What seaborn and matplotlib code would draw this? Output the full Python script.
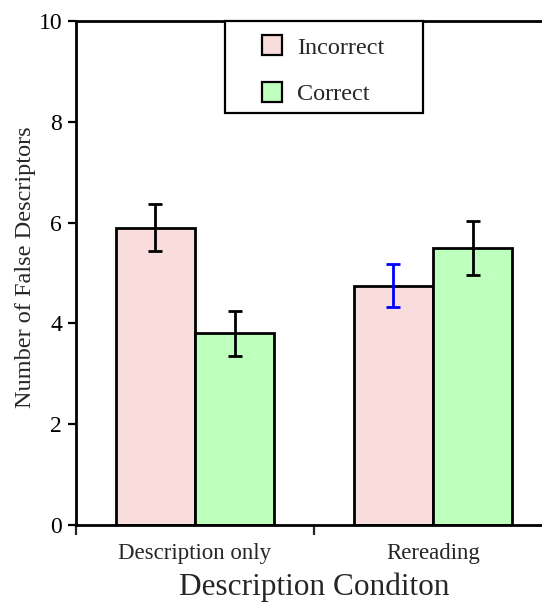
import matplotlib
matplotlib.use("Agg")
import matplotlib.pyplot as plt
from matplotlib.patches import Rectangle, Patch
import seaborn as sns
import pandas as pd
import numpy as np

conditions = ["Description only", "Description only", "Rereading", "Rereading"]
response = ["Incorrect", "Correct", "Incorrect", "Correct"]
false_descriptors = [5.9, 3.8, 4.75, 5.5]
sem = [0.47, 0.44, 0.43, 0.53]
err_colors = ["black", "black", "blue", "black"]

condition_labels = ["Description only", "Rereading"]
hue_order = ["Incorrect", "Correct"]
palette = {"Incorrect": "#F9DDDD", "Correct": "#BEFFBE"}

df = pd.DataFrame({"Condition": conditions, "Response": response,
                   "Value": false_descriptors, "SEM": sem, "ErrColor": err_colors})

sns.set_style("white")
plt.rcParams["font.family"] = ["Liberation Serif", "DejaVu Serif"]

fig = plt.figure(figsize=(5.42, 6.02), dpi=100)
ax = fig.add_axes([76 / 542, 1 - 525 / 602, 476 / 542, 504 / 602])

sns.barplot(data=df, x="Condition", y="Value", hue="Response",
            order=condition_labels, hue_order=hue_order, palette=palette,
            saturation=1, width=0.665, errorbar=None, edgecolor="black",
            linewidth=2, ax=ax, legend=False, zorder=2)

# error bars at the centre of each bar
for patch in ax.patches:
    cx = patch.get_x() + patch.get_width() / 2
    h = patch.get_height()
    match = df[np.isclose(df["Value"], h)]
    if match.empty:
        continue
    row = match.iloc[0]
    ax.errorbar(cx, row["Value"], yerr=row["SEM"], color=row["ErrColor"],
                capsize=5, capthick=2, elinewidth=2, fmt="none", zorder=3)

ax.set_xlim(-0.5, 1.5)
ax.set_ylim(0, 10)
ax.set_yticks([0, 2, 4, 6, 8, 10])
ax.tick_params(axis="y", labelsize=17, length=6, width=1.6, direction="out",
               pad=4, left=True, colors="black")
ax.set_xticks([-0.5, 0.5, 1.5])
ax.set_xticklabels(["", "", ""])
ax.set_xticks([0, 1], minor=True)
ax.set_xticklabels(condition_labels, minor=True)
ax.tick_params(axis="x", which="major", length=7, width=1.6, direction="out",
               bottom=True)
ax.tick_params(axis="x", which="minor", length=0, labelsize=16.5, pad=13)

for side in ["left", "bottom", "top"]:
    ax.spines[side].set_linewidth(2)
    ax.spines[side].set_color("black")
ax.spines["right"].set_visible(False)

ax.set_ylabel("Number of False Descriptors", fontsize=17.5)
ax.yaxis.set_label_coords(-0.085, 0.512)
ax.set_xlabel("Description Conditon", fontsize=22.5, labelpad=6)

# legend box
ax.add_patch(Rectangle((0.313, 0.817), 0.416, 0.183, transform=ax.transAxes,
                       facecolor="white", edgecolor="black", linewidth=1.6,
                       zorder=5, clip_on=False))
handles = [Patch(facecolor=palette[h], edgecolor="black", linewidth=1.6)
           for h in hue_order]
leg = ax.legend(handles, hue_order, loc="upper left",
                bbox_to_anchor=(0.349, 1.01), frameon=False, fontsize=17.5,
                handlelength=0.85, handleheight=0.85, handletextpad=0.6,
                labelspacing=0.98, borderpad=0.3)
leg.set_zorder(6)

fig.savefig("out.png", dpi=100)
